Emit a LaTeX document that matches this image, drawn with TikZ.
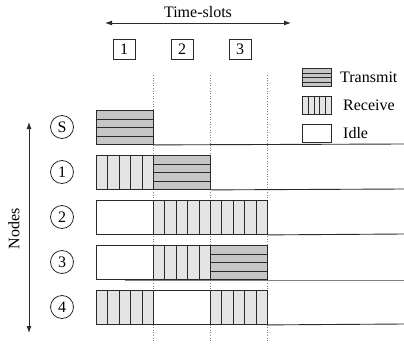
\documentclass[tikz,border=0pt]{standalone}
\usepackage{fontspec}
\setmainfont{Liberation Serif}
\usetikzlibrary{calc,arrows.meta}
\definecolor{txgray}{HTML}{C6C6C6}
\definecolor{rxgray}{HTML}{E4E4E4}
\definecolor{edge}{HTML}{2A2A2A}
\tikzset{
  cell/.style={draw=edge, line width=0.9pt, inner sep=0pt, minimum width=57pt, minimum height=34pt, anchor=north west},
  txcell/.style={cell, fill=txgray, path picture={
    \foreach \k in {1,2,3}{
      \draw[edge, line width=0.9pt] ($(path picture bounding box.north west)!{\k/4}!(path picture bounding box.south west)$) -- ($(path picture bounding box.north east)!{\k/4}!(path picture bounding box.south east)$);}}},
  rxcell/.style={cell, fill=rxgray, path picture={
    \foreach \k in {1,2,3,4}{
      \draw[edge, line width=0.9pt] ($(path picture bounding box.north west)!{\k/5}!(path picture bounding box.north east)$) -- ($(path picture bounding box.south west)!{\k/5}!(path picture bounding box.south east)$);}}},
  idlecell/.style={cell, fill=white},
  slotbox/.style={draw=edge, line width=0.8pt, minimum width=22pt, minimum height=20pt, inner sep=0pt},
  nodecirc/.style={circle, draw=edge, line width=0.8pt, minimum size=23pt, inner sep=0pt},
  legbox/.style={minimum width=29pt, minimum height=18pt, anchor=north west},
  legtext/.style={anchor=west, inner sep=0pt},
  guide/.style={gray, dotted, line width=0.6pt},
  base/.style={edge, line width=0.9pt},
  axis/.style={edge, line width=0.9pt, {Latex[length=7pt,width=5pt]}-{Latex[length=7pt,width=5pt]}},
}
\begin{document}
\begin{tikzpicture}[x=1pt,y=-1pt, font=\fontsize{16}{18}\selectfont]
\useasboundingbox (0,0) rectangle (404,343);
% time axis
\node (tslabel) at (198,12) {Time-slots};
\coordinate (tl) at (105,23);
\coordinate (tr) at (291,23);
\draw[axis] (tl) -- (tr);
\node[slotbox] (s1) at (124,49) {1};
\node[slotbox] (s2) at (182,49) {2};
\node[slotbox] (s3) at (240,49) {3};
% guides
\foreach \x/\n in {153/a,210/b,267/c}{
  \coordinate (g\n t) at (\x,75);
  \coordinate (g\n b) at (\x,341);
  \draw[guide] (g\n t) -- (g\n b);
}
% legend
\node[legbox, txcell, minimum width=29pt, minimum height=18pt] (ltx) at (302,68) {};
\node[legtext] (ltxt) at (340,77) {Transmit};
\node[legbox, rxcell, minimum width=29pt, minimum height=18pt] (lrx) at (302,96) {};
\node[legtext] (lrxt) at (343,105) {Receive};
\node[legbox, idlecell, minimum width=29pt, minimum height=18pt] (lid) at (302,124) {};
\node[legtext] (lidt) at (343,133) {Idle};
% nodes axis
\coordinate (nt) at (29,122);
\coordinate (nb) at (29,333);
\draw[axis] (nt) -- (nb);
\node[rotate=90] (nlabel) at (14,229) {Nodes};
% node circles
\node[nodecirc] (cS) at (62,127) {S};
\node[nodecirc] (c1) at (62,172) {1};
\node[nodecirc] (c2) at (62,217) {2};
\node[nodecirc] (c3) at (62,262) {3};
\node[nodecirc] (c4) at (62,307) {4};
% row S
\node[txcell] (S1) at (96,110) {};
\coordinate (eS) at (404,144);
\draw[base] (S1.south east) -- (eS);
% row 1
\node[rxcell] (a1) at (96,155) {};
\node[txcell] (a2) at (153,155) {};
\coordinate (e1) at (404,189);
\draw[base] (a2.south east) -- (e1);
% row 2
\node[idlecell] (b1) at (96,200) {};
\node[rxcell] (b2) at (153,200) {};
\node[rxcell] (b3) at (210,200) {};
\coordinate (e2) at (404,234);
\draw[base] (b3.south east) -- (e2);
% row 3
\coordinate (f3) at (125,280);
\coordinate (e3) at (404,280);
\draw[gray, line width=0.9pt] (f3) -- (e3);
\node[idlecell] (d1) at (96,245) {};
\node[rxcell] (d2) at (153,245) {};
\node[txcell] (d3) at (210,245) {};
% row 4
\node[rxcell] (h1) at (96,290) {};
\node[idlecell] (h2) at (153,290) {};
\node[rxcell] (h3) at (210,290) {};
\coordinate (e4) at (404,324);
\draw[base] (h3.south east) -- (e4);
\end{tikzpicture}
\end{document}
